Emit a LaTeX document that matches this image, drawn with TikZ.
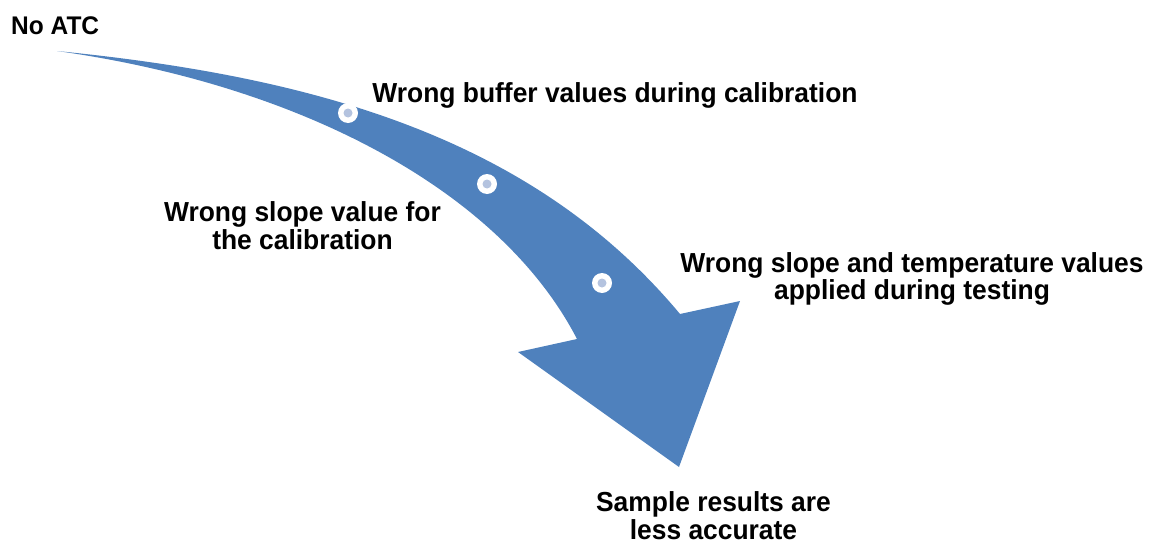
\documentclass[tikz,border=0pt]{standalone}
\usepackage{fontspec}
\setmainfont[FakeStretch=0.96]{Liberation Sans}
\definecolor{arrowblue}{HTML}{4F81BD}
\definecolor{dotblue}{HTML}{B4C3DF}
\begin{document}
\begin{tikzpicture}[x=1pt,y=-1pt,
  lbl/.style={inner sep=0pt, align=center, font=\bfseries\fontsize{27.5}{27.7}\selectfont},
  ring/.style={circle, fill=white, inner sep=0pt, minimum size=20pt},
  pip/.style={circle, fill=dotblue, inner sep=0pt, minimum size=9pt}]
\useasboundingbox (0,0) rectangle (1151,554);
% curved arrow
\fill[arrowblue] (57,51) .. controls (307,76) and (530,134) .. (680,314)
  -- (740,301) -- (679,467) -- (518,352) -- (577,339)
  .. controls (500,190) and (300,85) .. (57,51) -- cycle;
% milestone dots
\foreach \n/\p in {d1/{(348,113)}, d2/{(487,184)}, d3/{(602,283)}}{
  \node[ring] (\n) at \p {};
  \node[pip] (\n i) at \p {};
}
% labels
\node[inner sep=0pt, anchor=base west, font=\bfseries\fontsize{25.5}{27}\selectfont] (noatc) at (11,34) {No ATC};
\node[lbl, anchor=base] (buffer) at (615,102) {Wrong buffer values during calibration};
\node[lbl] (slope) at (302.5,226) {Wrong slope value for\\the calibration};
\node[lbl] (temp) at (912,279) {Wrong slope and temperature values\\applied during testing};
\node[lbl] (result) at (713.5,516) {Sample results are\\less accurate};
\end{tikzpicture}
\end{document}
